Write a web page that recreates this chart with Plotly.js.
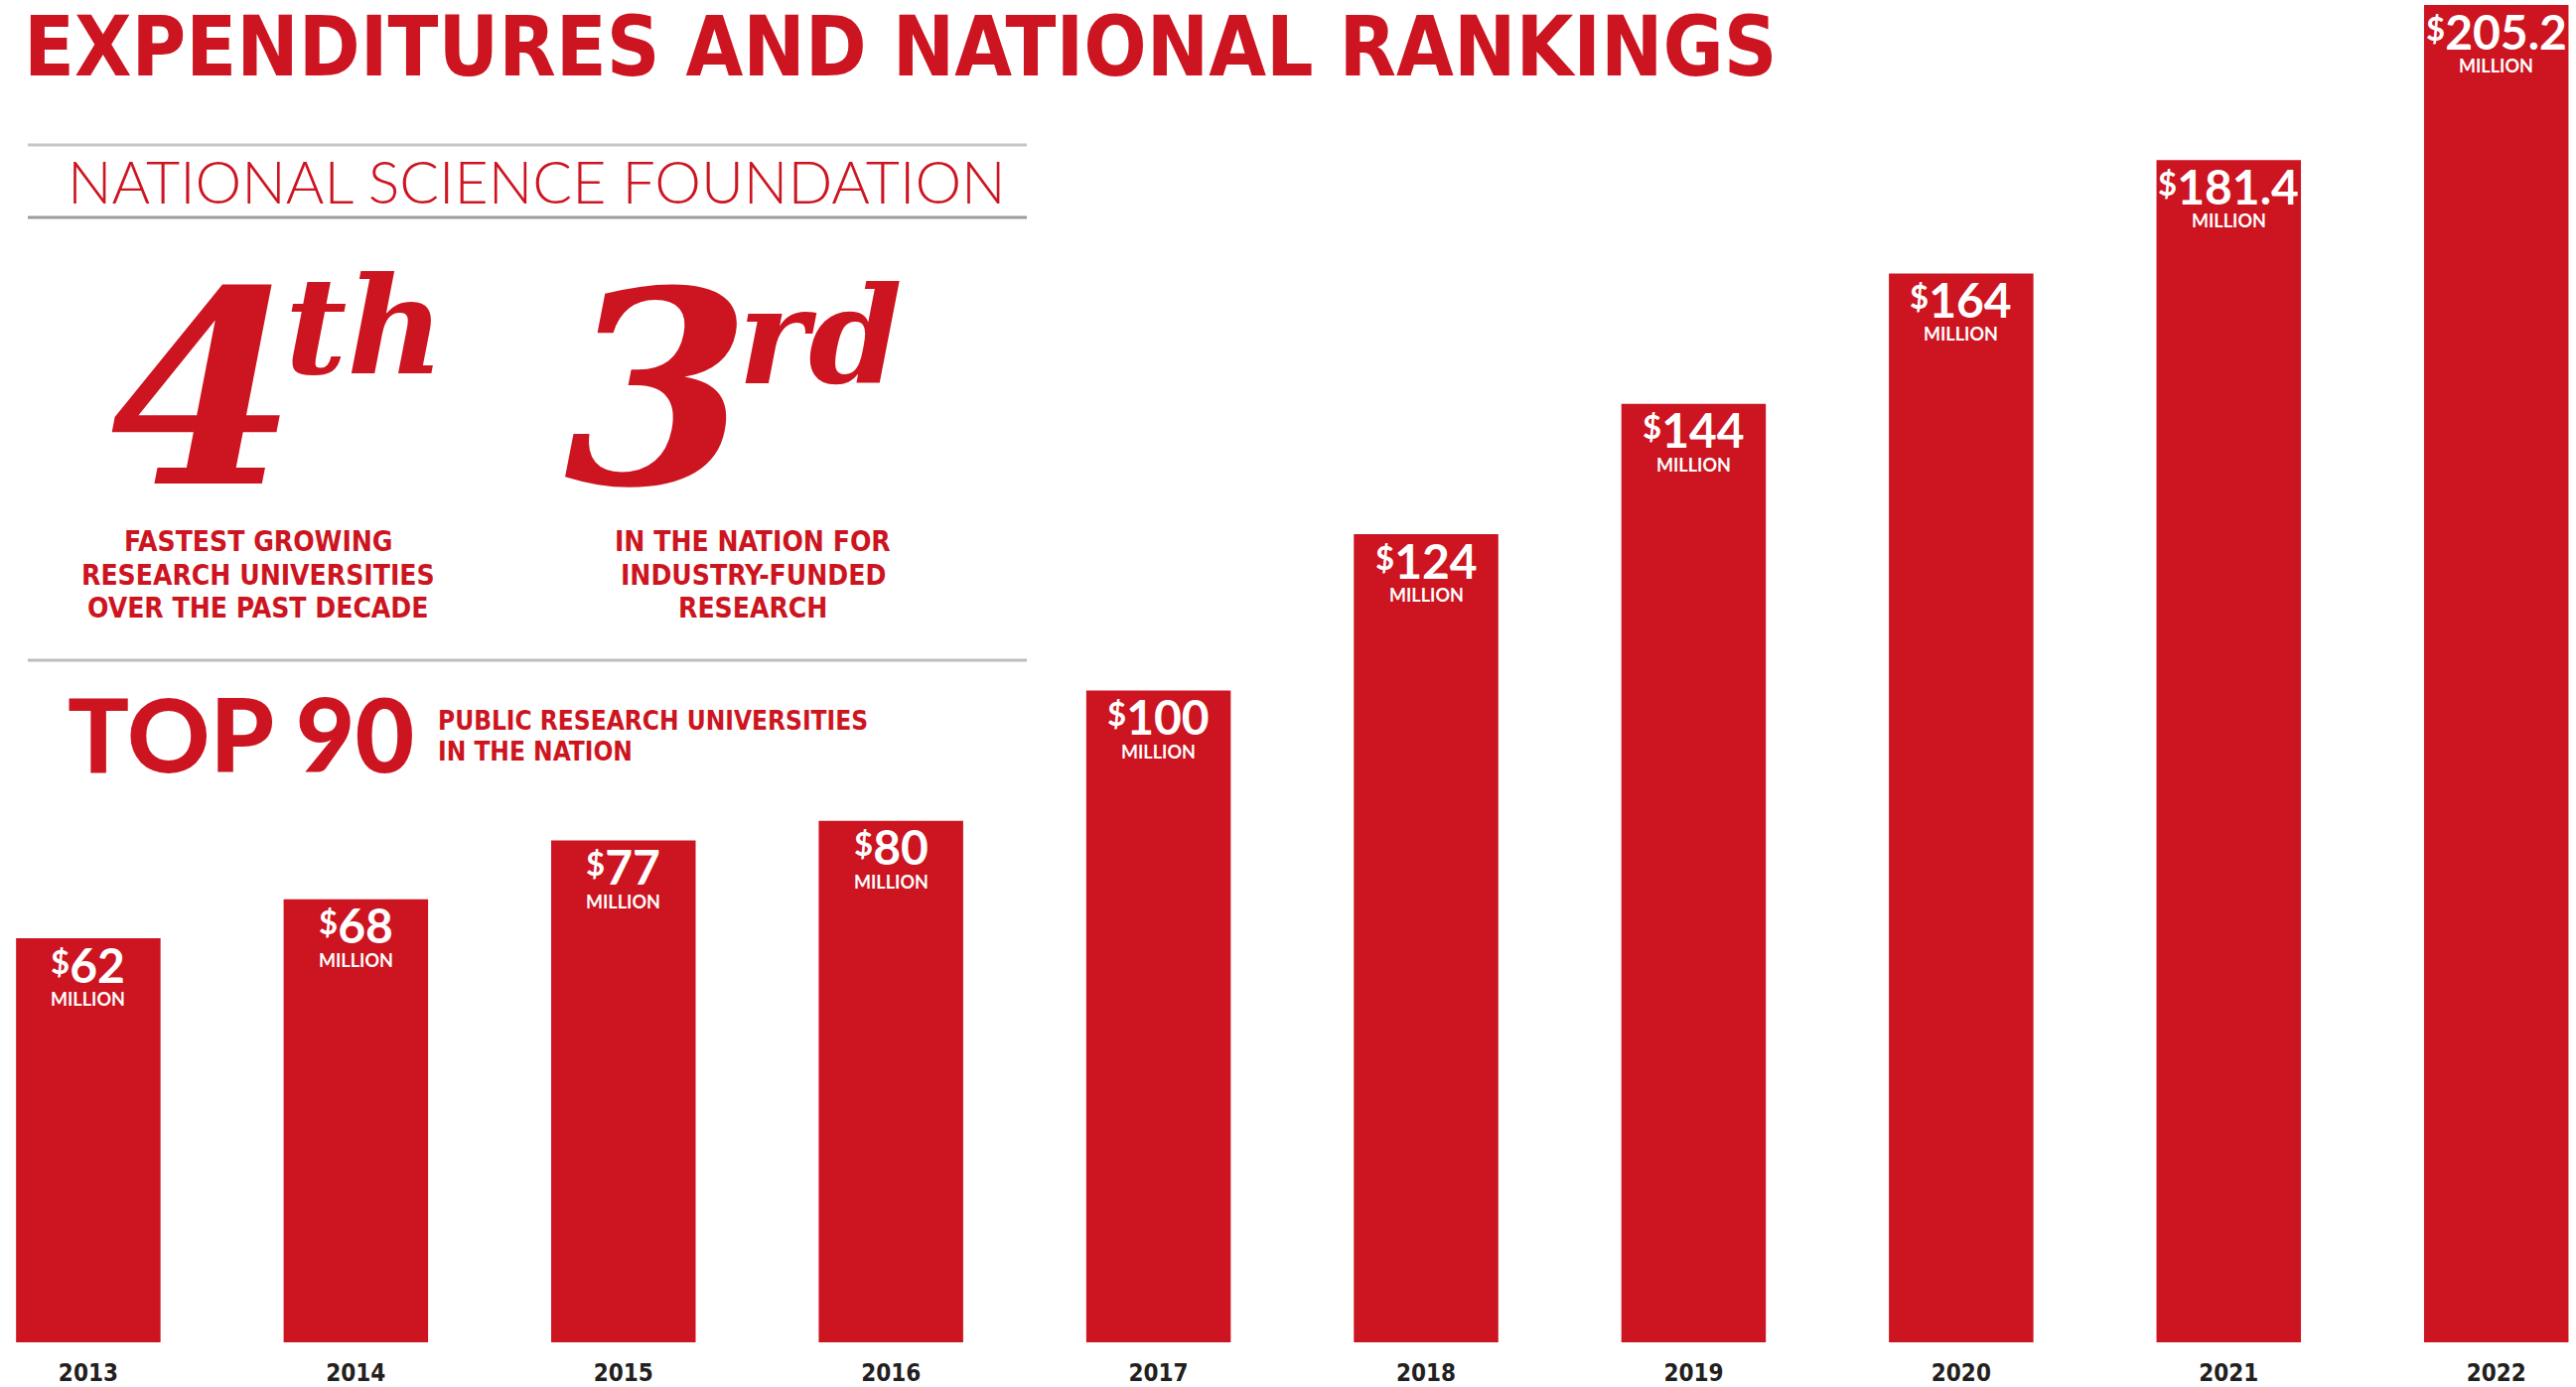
<!DOCTYPE html>
<html>
<head>
<meta charset="utf-8">
<script src="https://cdn.plot.ly/plotly-3.0.1.min.js"></script>
<style>html,body{margin:0;padding:0;background:#fff;}#chart{width:2594px;height:1397px;}</style>
</head>
<body>
<div id="chart"></div>
<script>
// ---- data ----
const years = ['2013','2014','2015','2016','2017','2018','2019','2020','2021','2022'];
const expenditures = [62, 68, 77, 80, 100, 124, 144, 164, 181.4, 205.2];
const valueLabels = ['62','68','77','80','100','124','144','164','181.4','205.2'];
const unitLabel = 'MILLION';

// ---- styling ----
const RED = '#cc1520';
const W = 2594, H = 1397;
const PLOT_TOP = 5, PLOT_BOTTOM = 1352;
const px = x => x / W;
const py = y => (PLOT_BOTTOM - y) / (PLOT_BOTTOM - PLOT_TOP);
const NARROW = '"DejaVu Sans Condensed", "Liberation Sans Narrow", sans-serif';
const GEO = 'Lato, "Open Sans", sans-serif';
const SCRIPT = '"DejaVu Serif", "Liberation Serif", serif';

const trace = {
  type: 'bar',
  x: years,
  y: expenditures,
  marker: {color: RED, line: {width: 0}},
  hoverinfo: 'skip'
};

const annotations = [];
// value labels inside the bar tops (x given as category index)
years.forEach((yr, i) => {
  annotations.push({
    xref: 'x', yref: 'y', x: i, y: expenditures[i],
    text: '<span style="font-size:33px;baseline-shift:9px">$</span>' + valueLabels[i],
    showarrow: false, xanchor: 'center', yanchor: 'middle', yshift: -26,
    font: {family: GEO, size: 48, color: '#ffffff', weight: 700}
  });
  annotations.push({
    xref: 'x', yref: 'y', x: i, y: expenditures[i],
    text: unitLabel,
    showarrow: false, xanchor: 'center', yanchor: 'middle', yshift: -61,
    font: {family: GEO, size: 18, color: '#ffffff', weight: 700}
  });
});

function txt(text, x, y, font, xanchor, extra) {
  return Object.assign({xref: 'paper', yref: 'paper', x: px(x), y: py(y), text: text,
    showarrow: false, xanchor: xanchor || 'center', yanchor: 'middle', font: font}, extra || {});
}

annotations.push(txt('EXPENDITURES AND NATIONAL RANKINGS', 22, 47,
  {family: NARROW, size: 83, color: RED, weight: 700}, 'left'));
annotations.push(txt('NATIONAL SCIENCE FOUNDATION', 540, 182,
  {family: GEO, size: 59, color: RED, weight: 300}));
annotations.push(txt('<i>4</i>', 205, 392, {family: SCRIPT, size: 270, color: RED, weight: 700}, 'center', {height: 232, valign: 'middle'}));
annotations.push(txt('<i>th</i>', 368, 328, {family: SCRIPT, size: 135, color: RED, weight: 700}));
annotations.push(txt('<i>3</i>', 662, 392, {family: SCRIPT, size: 270, color: RED, weight: 700}, 'center', {height: 232, valign: 'middle'}));
annotations.push(txt('<i>rd</i>', 826, 338, {family: SCRIPT, size: 135, color: RED, weight: 700}));
const cap1 = ['FASTEST GROWING', 'RESEARCH UNIVERSITIES', 'OVER THE PAST DECADE'];
const cap2 = ['IN THE NATION FOR', 'INDUSTRY-FUNDED', 'RESEARCH'];
const capY = [545, 579, 612];
cap1.forEach((t, i) => annotations.push(txt(t, 260, capY[i], {family: NARROW, size: 28, color: RED, weight: 700})));
cap2.forEach((t, i) => annotations.push(txt(t, 758, capY[i], {family: NARROW, size: 28, color: RED, weight: 700})));
annotations.push(txt('TOP 90', 66, 738, {family: GEO, size: 103, color: RED, weight: 900}, 'left'));
annotations.push(txt('PUBLIC RESEARCH UNIVERSITIES', 439, 726, {family: NARROW, size: 26, color: RED, weight: 700}, 'left'));
annotations.push(txt('IN THE NATION', 439, 757, {family: NARROW, size: 26, color: RED, weight: 700}, 'left'));

const shapes = [
  {type: 'line', xref: 'paper', yref: 'paper', x0: px(28), x1: px(1034), y0: py(146), y1: py(146), line: {color: '#c6c6c6', width: 3}},
  {type: 'line', xref: 'paper', yref: 'paper', x0: px(28), x1: px(1034), y0: py(219), y1: py(219), line: {color: '#9c9c9c', width: 3}},
  {type: 'line', xref: 'paper', yref: 'paper', x0: px(28), x1: px(1034), y0: py(665), y1: py(665), line: {color: '#bdbdbd', width: 3}}
];

const layout = {
  width: W, height: H,
  margin: {l: 0, r: 0, t: PLOT_TOP, b: H - PLOT_BOTTOM, pad: 0},
  paper_bgcolor: '#ffffff', plot_bgcolor: '#ffffff',
  showlegend: false,
  bargap: 0.46,
  xaxis: {
    type: 'category', range: [-0.330, 9.298], fixedrange: true,
    showgrid: false, zeroline: false, showline: false, ticks: '',
    tickfont: {family: NARROW, size: 24, color: '#231f20', weight: 700},
    ticklabelstandoff: 14
  },
  yaxis: {
    range: [0, 205.2], fixedrange: true, visible: false,
    showgrid: false, zeroline: false
  },
  annotations: annotations,
  shapes: shapes
};

Plotly.newPlot('chart', [trace], layout, {displayModeBar: false, staticPlot: true});
</script>
</body>
</html>
